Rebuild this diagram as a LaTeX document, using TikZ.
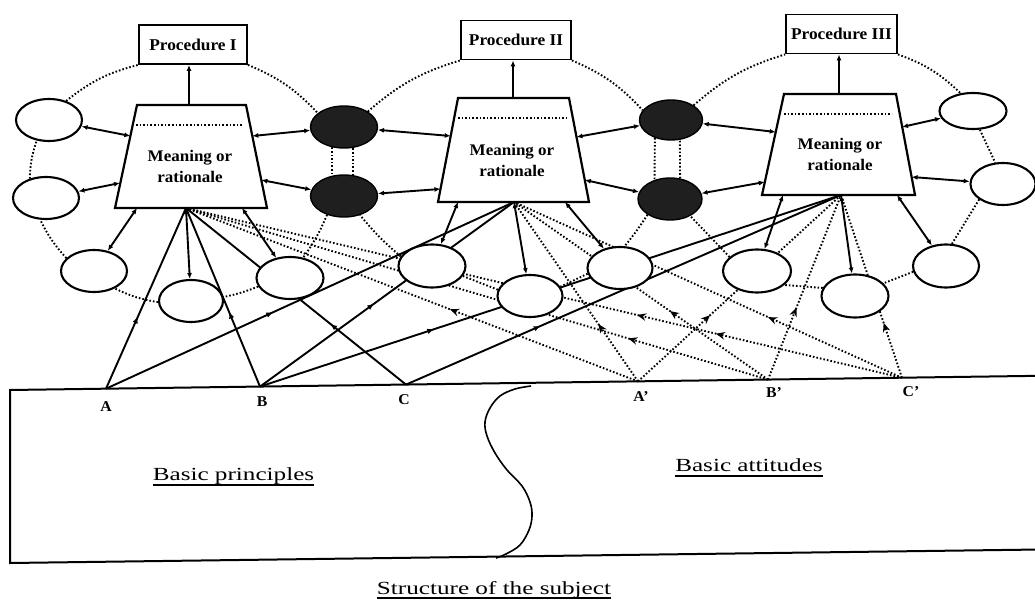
\documentclass[tikz,border=0pt]{standalone}
\usepackage{fontspec}
\setmainfont{Liberation Serif}
\newfontfamily\boxfont[FakeStretch=1.05]{Liberation Serif}
\newfontfamily\wideserif[FakeStretch=1.36]{Liberation Serif}
\usetikzlibrary{shapes.geometric,arrows.meta,decorations.markings,calc}
\pgfdeclarelayer{background}
\pgfsetlayers{background,main}
% underline drawn as a thick rule just below the baseline
\newcommand\undl[1]{\setbox0=\hbox{#1}\rlap{\copy0}\rule[-5pt]{\wd0}{1.6pt}}

\tikzset{
  ln/.style={line width=1.9pt},
  dotl/.style={line width=1.9pt, dash pattern=on 1.6pt off 2.0pt},
  ell/.style={ellipse, draw, line width=2.1pt, fill=white, minimum width=66pt, minimum height=42pt, inner sep=0pt},
  darkell/.style={ellipse, draw, line width=1.4pt, fill=black!88, minimum width=67pt, minimum height=42pt, inner sep=0pt},
  procbox/.style={draw, line width=1.9pt, fill=white, minimum height=39pt, inner sep=0pt, font=\boxfont\bfseries\fontsize{16.5}{19}\selectfont},
  trap/.style={draw, line width=2.2pt, fill=white, line join=miter},
  meaning/.style={align=center, inner sep=0pt, font=\boxfont\bfseries\fontsize{16.2}{21}\selectfont},
  ptlabel/.style={inner sep=0pt, font=\boxfont\bfseries\fontsize{15}{17}\selectfont},
  bigtitle/.style={inner sep=0pt, anchor=base, font=\wideserif\fontsize{18.5}{21}\selectfont},
  tipS/.tip={Latex[length=6pt,width=5pt]},
  biarr/.style={ln, tipS-tipS},
  upto/.style={ln, -tipS},
  midsolid/.style={postaction={decorate}, decoration={markings,
      mark=at position #1 with {\arrow{Latex[length=7pt,width=5.5pt]}}}},
  middot/.style={postaction={decorate}, decoration={markings,
      mark=at position #1 with {\arrow{Stealth[length=9pt,width=7.5pt]}}}},
  middottwo/.style 2 args={postaction={decorate}, decoration={markings,
      mark=at position #1 with {\arrow{Stealth[length=9pt,width=7.5pt]}},
      mark=at position #2 with {\arrow{Stealth[length=9pt,width=7.5pt]}}}},
}

\begin{document}
\begin{tikzpicture}[x=1pt,y=-1pt]
\useasboundingbox (0,0) rectangle (1035,601);

% ---------- procedure boxes ----------
\node[procbox, minimum width=108pt] (p1) at (193,44.5) {Procedure I};
\node[procbox, minimum width=110pt] (p2) at (516,40) {Procedure II};
\node[procbox, minimum width=111pt] (p3) at (841.5,34) {Procedure III};

% ---------- trapezoids: meaning or rationale ----------
\coordinate (t1tl) at (137,105); \coordinate (t1tr) at (246,105);
\coordinate (t1br) at (267,208); \coordinate (t1bl) at (115,208);
\coordinate (t2tl) at (458,98);  \coordinate (t2tr) at (569,98);
\coordinate (t2br) at (589,202); \coordinate (t2bl) at (438,202);
\coordinate (t3tl) at (784,94);  \coordinate (t3tr) at (896,94);
\coordinate (t3br) at (915,195); \coordinate (t3bl) at (762,195);

\draw[trap] (t1tl) -- (t1tr) -- (t1br) -- (t1bl) -- cycle;
\draw[trap] (t2tl) -- (t2tr) -- (t2br) -- (t2bl) -- cycle;
\draw[trap] (t3tl) -- (t3tr) -- (t3br) -- (t3bl) -- cycle;

\draw[dotl, line width=1.5pt] (136,125) -- (243,125);
\draw[dotl, line width=1.5pt] (458,118) -- (567,118);
\draw[dotl, line width=1.5pt] (784,114) -- (892,114);

\node[meaning] (m1) at (190,166) {Meaning or\\rationale};
\node[meaning] (m2) at (512,160) {Meaning or\\rationale};
\node[meaning] (m3) at (840,154) {Meaning or\\rationale};

% attachment points on the trapezoid sides
\coordinate (t1top) at (189,105);
\coordinate (t1l1) at (130.4,136); \coordinate (t1l2) at (120,183);
\coordinate (t1r1) at (252.3,136); \coordinate (t1r2) at (261.3,180);
\coordinate (t1b1) at (137,208);   \coordinate (t1c) at (186,208);
\coordinate (t1b3) at (242,208);
\coordinate (t2top) at (513,98);
\coordinate (t2l1) at (450.7,136); \coordinate (t2l2) at (440.5,189);
\coordinate (t2r1) at (576.5,137); \coordinate (t2r2) at (584.8,180);
\coordinate (t2b1) at (458,202);   \coordinate (t2c) at (514,202);
\coordinate (t2b3) at (565,202);
\coordinate (t3top) at (839,94);
\coordinate (t3l1) at (775.7,132); \coordinate (t3l2) at (764.8,182);
\coordinate (t3r1) at (902,127);   \coordinate (t3r2) at (911.6,177);
\coordinate (t3b1) at (783,195);   \coordinate (t3c) at (841,195);
\coordinate (t3b3) at (897,195);

% ---------- ellipses ----------
\node[ell] (e1a) at (49,120) {};
\node[ell] (e1b) at (46,198) {};
\node[ell] (e1c) at (94,271) {};
\node[ell, minimum width=64pt] (e1d) at (191,301) {};
\node[ell, minimum width=67pt] (e1e) at (290,278) {};

\node[darkell] (d1) at (344,127) {};
\node[darkell] (d2) at (344,196) {};
\node[darkell, minimum width=63pt, minimum height=40pt] (d3) at (671,120) {};
\node[darkell, minimum width=64pt] (d4) at (670,199) {};

\node[ell, minimum width=67pt, minimum height=43pt] (e2a) at (432,266) {};
\node[ell, minimum width=65pt] (e2b) at (530,296) {};
\node[ell, minimum width=65pt] (e2c) at (620,268) {};

\node[ell, minimum width=68pt, minimum height=43pt] (e3a) at (757,271) {};
\node[ell, minimum width=67pt, minimum height=43pt] (e3b) at (855,296) {};
\node[ell, minimum height=43pt] (e3c) at (946,266) {};
\node[ell, minimum width=67pt, minimum height=36pt] (e3d) at (973,111) {};
\node[ell, minimum width=65pt] (e3e) at (1003,184) {};

% ---------- base: principles and attitudes ----------
\coordinate (pa) at (106,388.7);
\coordinate (pb) at (260,386.6);
\coordinate (pc) at (406,384.6);
\coordinate (qa) at (638,381.4);
\coordinate (qb) at (768,379.6);
\coordinate (qc) at (902,377.8);

\draw[line width=2pt] (1040,375.8) -- (10,390) -- (10,563) -- (1040,549.5);

\draw[line width=1.6pt] plot[smooth, tension=0.6] coordinates {(531,386) (515,389) (500,396)
  (490,408) (485,422) (487,436) (495,453) (507,470) (522,486) (530,502) (532,516)
  (529,530) (520,545) (506,554) (496,558)};

\node[ptlabel] (la) at (106,407) {A};
\node[ptlabel] (lb) at (262,402) {B};
\node[ptlabel] (lc) at (404,400) {C};
\node[ptlabel] (lqa) at (641,397) {A’};
\node[ptlabel] (lqb) at (774,393) {B’};
\node[ptlabel] (lqc) at (911,392) {C’};

\node[bigtitle] (bp) at (233.5,480.5) {\undl{Basic principles}};
\node[bigtitle] (ba) at (749,471.5) {\undl{Basic attitudes}};
\node[bigtitle] (st) at (494,594) {\undl{Structure of the subject}};

% ---------- arrows to the procedures ----------
\draw[upto] (t1top) -- (p1.south -| t1top);
\draw[upto] (t2top) -- (p2.south -| t2top);
\draw[upto] (t3top) -- (p3.south -| t3top);

% ---------- links between each trapezoid and its ring ----------
\draw[biarr] (e1a) -- (t1l1);
\draw[biarr] (e1b) -- (t1l2);
\draw[biarr] (t1r1) -- (d1);
\draw[biarr] (t1r2) -- (d2);
\draw[biarr] (t1b1) -- (e1c);
\draw[biarr] (t1c) -- (e1d);
\draw[biarr] (t1b3) -- (e1e);

\draw[biarr] (d1) -- (t2l1);
\draw[biarr] (d2) -- (t2l2);
\draw[biarr] (t2r1) -- (d3);
\draw[biarr] (t2r2) -- (d4);
\draw[biarr] (t2b1) -- (e2a);
\draw[biarr] (t2c) -- (e2b);
\draw[biarr] (t2b3) -- (e2c);

\draw[biarr] (d3) -- (t3l1);
\draw[biarr] (d4) -- (t3l2);
\draw[biarr] (t3r1) -- (e3d);
\draw[biarr] (t3r2) -- (e3e);
\draw[biarr] (t3b1) -- (e3a);
\draw[biarr] (t3c) -- (e3b);
\draw[biarr] (t3b3) -- (e3c);

\begin{pgfonlayer}{background}
% ---------- dotted rings ----------
\draw[dotl] (p1.south east) to[bend left=12] (d1.152);
\draw[dotl] (d1.240) -- (d2.120);
\draw[dotl] (d2.228) to[bend left=6] (e1e.57);
\draw[dotl] (e1e.195) to[bend left=5] (e1d.7);
\draw[dotl] (e1d.182) to[bend left=8] (e1c.320);
\draw[dotl] (e1c.155) to[bend left=8] (e1b.255);
\draw[dotl] (e1b.130) to[bend left=8] (e1a.239);
\draw[dotl] (e1a.48) to[bend left=12] (p1.south west);

\draw[dotl] (p2.south east) to[bend left=12] (d3.161);
\draw[dotl] (d3.228) -- (d4.129);
\draw[dotl] (d4.215) to[bend left=3] (e2c.78);
\draw[dotl] (e2c.190) -- (e2b.17);
\draw[dotl] (e2b.169) -- (e2a.342);
\draw[dotl] (e2a.163) to[bend left=5] (d2.310);
\draw[dotl] (d2.66) -- (d1.294);
\draw[dotl] (d1.33) to[bend left=12] (p2.south west);

\draw[dotl] (p3.south east) to[bend left=12] (e3d.125);
\draw[dotl] (e3d.290) -- (e3e.110);
\draw[dotl] (e3e.213) -- (e3c.75);
\draw[dotl] (e3c.190) -- (e3b.24);
\draw[dotl] (e3b.166) -- (e3a.333);
\draw[dotl] (e3a.153) -- (d4.320);
\draw[dotl] (d4.64) -- (d3.294);
\draw[dotl] (d3.33) to[bend left=12] (p3.south west);

% ---------- basic principles to the rationales ----------
\draw[ln, midsolid=0.4]   (pa) -- (t1c);
\draw[ln, midsolid=0.41]  (pa) -- (t2c);
\draw[ln, midsolid=0.42]  (pb) -- (t1c);
\draw[ln, midsolid=0.45]  (pb) -- (t2c);
\draw[ln, midsolid=0.30]  (pb) -- (t3c);
\draw[ln, midsolid=0.345] (pc) -- (t1c);
\draw[ln, midsolid=0.31]  (pc) -- (t3c);

% ---------- basic attitudes to the rationales ----------
\draw[dotl, middot=0.416] (qa) -- (t1c);
\draw[dotl, middot=0.24]  (qb) -- (t1c);
\draw[dotl, middottwo={0.26}{0.37}] (qc) -- (t1c);
\draw[dotl, middot=0.32]  (qa) -- (t2c);
\draw[dotl, middot=0.386] (qb) -- (t2c);
\draw[dotl, middot=0.345] (qc) -- (t2c);
\draw[dotl, middot=0.355] (qa) -- (t3c);
\draw[dotl, middot=0.39]  (qb) -- (t3c);
\draw[dotl, middot=0.30]  (qc) -- (t3c);
\end{pgfonlayer}
\end{tikzpicture}
\end{document}
